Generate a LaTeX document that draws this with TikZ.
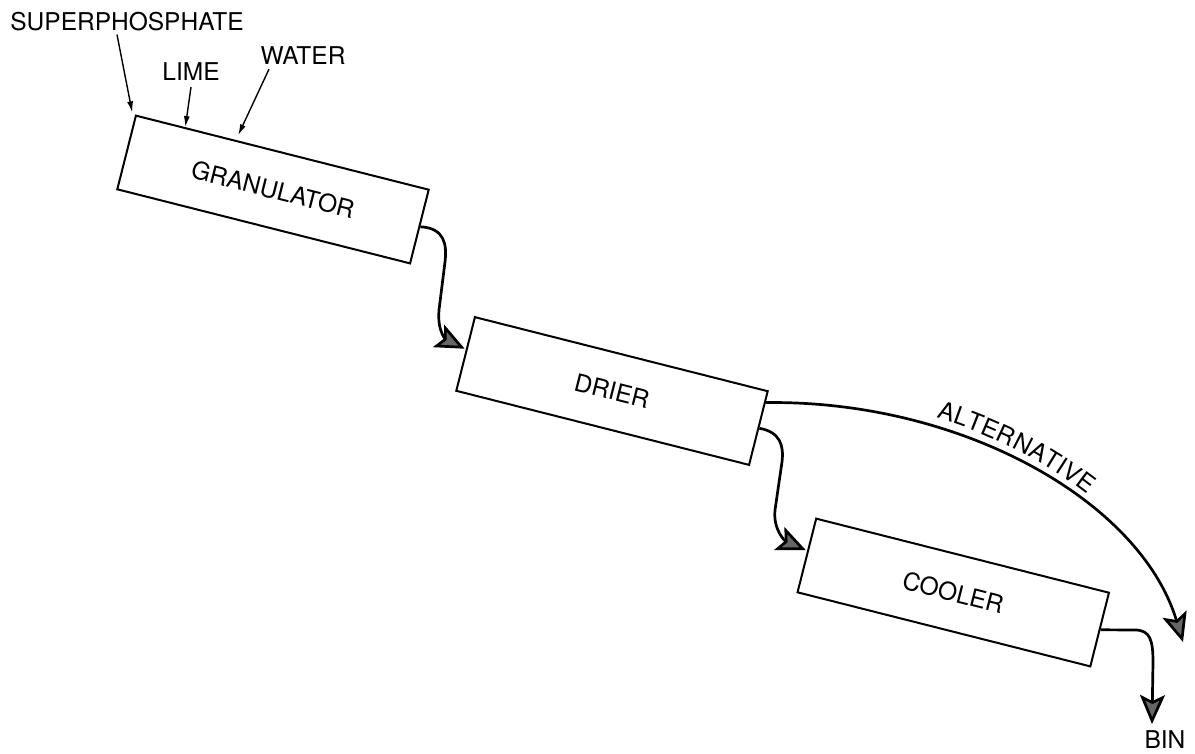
\documentclass[tikz,border=0pt]{standalone}
\usepackage{fontspec}
\setmainfont{TeX Gyre Heros}
\usetikzlibrary{arrows.meta,decorations.text,calc}
\newcommand{\lblfont}{\fontsize{24.5}{28}\selectfont}
\begin{document}
\begin{tikzpicture}[x=1pt,y=-1pt,
  unit/.style={draw, line width=2pt, minimum width=302pt, minimum height=76pt,
    inner sep=0pt, rotate=-14.2, font=\lblfont},
  lab/.style={inner sep=0pt, font=\lblfont},
  feed/.style={line width=1.4pt, -{Latex[length=11pt,width=6pt]}},
  flow/.style={line width=2.7pt, -{Stealth[length=29pt,width=25pt,inset=6pt,fill=black!60]}},
]
\useasboundingbox (0,0) rectangle (1195,753);

\node[unit] (gran)  at (273,189.5) {GRANULATOR};
\node[unit] (drier) at (612,391)   {DRIER};
\node[unit] (cool)  at (953.25,592.5) {COOLER};

\node[lab] (sup)   at (127,22) {SUPERPHOSPHATE};
\node[lab] (lime)  at (191,72) {LIME};
\node[lab] (water) at (303,56) {WATER};
\node[lab] (bin)   at (1165,740) {BIN};

\coordinate (altend) at (1183,642);
\coordinate (binend) at (1152,724);

% feeds
\draw[feed] ($(sup.south)+(-10,3)$) -- ($(gran.north west)+(-3,-2)$);
\draw[feed] ($(lime.south)+(0,6)$) -- ($(gran.north west)!0.17!(gran.north east)$);
\draw[feed] ($(water.south)+(-34,4)$) -- ($(gran.north west)!0.346!(gran.north east)+(1,-5)$);

% flows
\draw[flow] (gran.east) .. controls (445,228) and (447,245) .. (445,262)
  -- (439,310) .. controls (437,333) and (447,340) .. ($(drier.west)+(0,-5)$);
\draw[flow] (drier.east) .. controls (780,432) and (784,445) .. (782,462)
  -- (775,510) .. controls (773,530) and (785,541) .. ($(cool.west)+(0,-5)$);
\draw[flow] ($(drier.north east)!0.16!(drier.south east)$)
  .. controls (960,400) and (1140,500) .. (altend);
\path[decorate, decoration={text along path, text={|\lblfont|ALTERNATIVE},
    raise=9pt, text align={left indent=170pt}}]
  ($(drier.north east)!0.16!(drier.south east)$)
  .. controls (960,400) and (1140,500) .. (altend);
\draw[flow] (cool.east) -- (1135,630) .. controls (1150,630) and (1153,640) .. (1153,662)
  -- (binend);
\end{tikzpicture}
\end{document}
